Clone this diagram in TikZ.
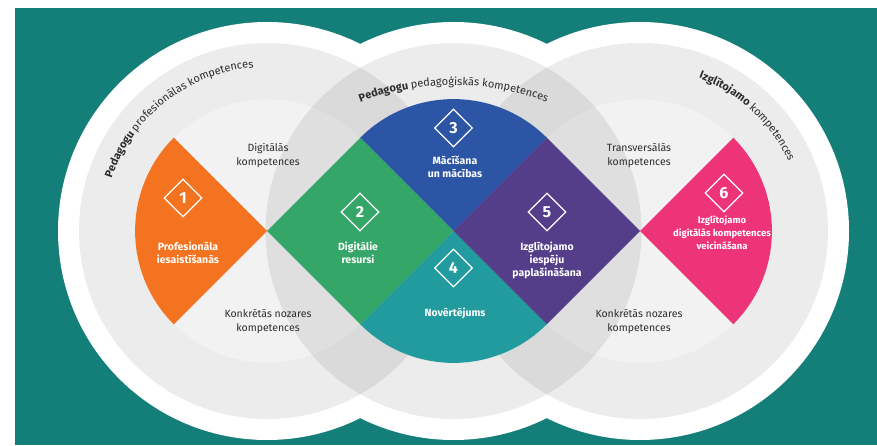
\documentclass[tikz,border=0pt]{standalone}
\usepackage{fontspec}
\setmainfont{Fira Sans}
\usetikzlibrary{shapes.geometric,decorations.text}

\definecolor{bgteal}{RGB}{20,126,121}
\definecolor{textgray}{RGB}{45,45,45}
\definecolor{orangeP}{RGB}{244,115,32}
\definecolor{greenP}{RGB}{52,166,103}
\definecolor{blueP}{RGB}{45,85,165}
\definecolor{tealP}{RGB}{33,155,157}
\definecolor{purpleP}{RGB}{84,62,138}
\definecolor{pinkP}{RGB}{238,52,120}

\def\rwhite{209}
\def\rgray{188}
\def\rlight{132}
\def\rpart{131.9}
\def\rtext{164}
\def\arcfont{\fontsize{11}{13}\selectfont}

\begin{document}
\begin{tikzpicture}[x=1pt,y=1pt]
    \tikzstyle{ring}=[fill=black, opacity=0.075, even odd rule]
    \tikzstyle{core}=[fill=black, opacity=0.05]
    \tikzstyle{numbox}=[diamond, draw=white, line width=1.3pt, minimum size=38pt, inner sep=0pt, text=white, font=\fontsize{16}{16}\selectfont\bfseries]
    \tikzstyle{partlabel}=[text=white, align=center, font=\fontsize{10.5}{13}\selectfont\bfseries]
    \tikzstyle{skill}=[text=textgray, align=center, font=\fontsize{10.5}{14}\selectfont]
    \tikzstyle{arctext}=[decorate, decoration={text along path, text align=center, text color=textgray}]

    \useasboundingbox (0,0) rectangle (877,445);
    \fill[white] (0,0) rectangle (877,445);
    \fill[bgteal] (15,0) rectangle (877,437);

    \coordinate (C-1) at (267,214);
    \coordinate (C-2) at (453.5,214);
    \coordinate (C-3) at (640,214);

    %%% DRAW THE CIRCLES
    \foreach \c in {1,2,3}
        \fill[white] (C-\c) circle (\rwhite);
    \foreach \c in {1,2,3}{
        \fill[ring] (C-\c) circle (\rgray) (C-\c) circle (\rlight);
        \fill[core] (C-\c) circle (\rlight);
    }

    %%% DRAW THE PARTS
    \foreach \c/\a/\col in {1/135/orangeP, 2/45/blueP, 2/225/tealP, 3/-45/pinkP}
        \fill[\col] (C-\c) -- ([shift={(\a:\rpart)}]C-\c) arc[start angle=\a, delta angle=90, radius=\rpart] -- cycle;
    \foreach \a/\b/\col in {1/2/greenP, 2/3/purpleP}
        \fill[\col] (C-\a) -- ([shift={(45:\rpart)}]C-\a) -- (C-\b) -- ([shift={(-45:\rpart)}]C-\a) -- cycle;

    %%% DRAW THE NODES
    \foreach \n/\x/\y in {1/183/247, 2/360/233, 3/453.5/317, 4/453.5/177, 5/547/233, 6/724/252}
        \node[numbox] (D-\n) at (\x,\y) {\n};

    \foreach \n/\x/\y/\txt in {1/188/192/{Profesionāla\\iesaistīšanās}, 2/358/192/{Digitālie\\resursi}, 3/455/278/{Mācīšana\\un mācības}, 4/455/132/{Novērtējums}, 5/547/185/{Izglītojamo\\iespēju\\paplašināšana}}
        \node[partlabel] (P-\n) at (\x,\y) {\txt};
    \node[partlabel, font=\fontsize{9.5}{13}\selectfont\bfseries] (P-6) at (722,212) {Izglītojamo\\digitālās kompetences\\veicināšana};

    \foreach \n/\x/\y/\txt in {1/268/289/{Digitālās\\kompetences}, 2/268/123/{Konkrētās nozares\\kompetences}, 3/639/289/{Transversālās\\kompetences}, 4/639/123/{Konkrētās nozares\\kompetences}}
        \node[skill] (K-\n) at (\x,\y) {\txt};

    %%% ANOTATE
    \path[arctext, decoration={text={|\arcfont\bfseries|Pedagogu |\arcfont\mdseries|profesionālas kompetences}}]
        ([shift={(178:\rtext)}]C-1) arc[start angle=178, end angle=78, radius=\rtext];
    \path[arctext, decoration={text={|\arcfont\bfseries|Pedagogu |\arcfont\mdseries|pedagoģiskās kompetences}}]
        ([shift={(125:260)}]453.5,100) arc[start angle=125, end angle=55, radius=260];
    \path[arctext, decoration={text={|\arcfont\bfseries|Izglītojamo |\arcfont\mdseries|kompetences}}]
        ([shift={(92:\rtext)}]C-3) arc[start angle=92, end angle=2, radius=\rtext];

\end{tikzpicture}
\end{document}
